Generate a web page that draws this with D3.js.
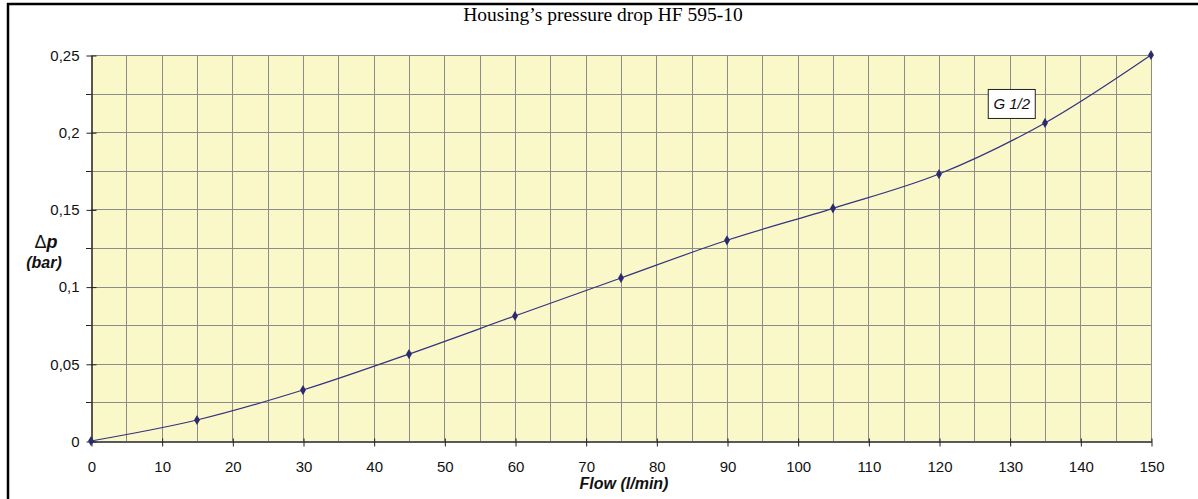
<!DOCTYPE html>
<html>
<head>
<meta charset="utf-8">
<script src="https://cdn.jsdelivr.net/npm/d3@7"></script>
<style>
  body { margin: 0; background: #fff; }
  svg { display: block; }
</style>
</head>
<body>
<div id="chart"></div>
<script>
// Data
const flow = [0, 15, 30, 45, 60, 75, 90, 105, 120, 135, 150];
const pressureDrop = [0, 0.0136, 0.033, 0.0563, 0.081, 0.1056, 0.130, 0.1507, 0.1729, 0.206, 0.25];
const xTicks = [0, 10, 20, 30, 40, 50, 60, 70, 80, 90, 100, 110, 120, 130, 140, 150];
const yTicks = [0, 0.05, 0.1, 0.15, 0.2, 0.25];
const seriesLabel = "G 1/2";

const width = 1198, height = 499;
const plotL = 91, plotR = 1151, plotT = 55, plotB = 441;
const sans = "Liberation Sans, Arial, sans-serif";

const svg = d3.select("#chart").append("svg")
    .attr("width", width)
    .attr("height", height);

// outer frame (left and top only are visible)
svg.append("line").attr("x1", 8).attr("x2", 8).attr("y1", 3).attr("y2", height)
    .attr("stroke", "#000").attr("stroke-width", 2.5);
svg.append("line").attr("x1", 7).attr("x2", width).attr("y1", 4).attr("y2", 4)
    .attr("stroke", "#000").attr("stroke-width", 2.5);

const x = d3.scaleLinear().domain([0, 150]).range([plotL, plotR]);
const y = d3.scaleLinear().domain([0, 0.25]).range([plotB, plotT]);

// plot background
svg.append("rect")
    .attr("x", plotL).attr("y", plotT)
    .attr("width", plotR - plotL).attr("height", plotB - plotT)
    .attr("fill", "#faf7c8");

// grid
const grid = svg.append("g").attr("stroke", "#8c8c8c").attr("stroke-width", 1);
grid.selectAll(".vg").data(d3.range(5, 151, 5)).join("line")
    .attr("x1", d => Math.round(x(d)) + 0.5).attr("x2", d => Math.round(x(d)) + 0.5)
    .attr("y1", plotT).attr("y2", plotB);
grid.selectAll(".hg").data(d3.range(0.025, 0.2501, 0.025)).join("line")
    .attr("x1", plotL).attr("x2", plotR)
    .attr("y1", d => Math.round(y(d)) + 0.5).attr("y2", d => Math.round(y(d)) + 0.5);

// axes
const xAxis = d3.axisBottom(x).tickValues(xTicks).tickSize(6).tickSizeOuter(0)
    .tickFormat(d3.format("d"));
const gX = svg.append("g")
    .attr("transform", `translate(0.5,${plotB + 0.5})`)
    .call(xAxis);
gX.select(".domain").attr("stroke", "#222").attr("stroke-width", 1.5);
gX.selectAll(".tick line").attr("stroke", "#222").attr("y1", -3).attr("y2", 5);
gX.selectAll(".tick text")
    .attr("y", 25).attr("dy", "0.35em")
    .attr("font-family", sans)
    .attr("font-size", 15).attr("fill", "#111");

const yFmt = d => d === 0 ? "0" : String(+d.toFixed(3)).replace(".", ",");
const yAxis = d3.axisLeft(y).tickValues(yTicks).tickSize(5).tickSizeOuter(0).tickFormat(yFmt);
const gY = svg.append("g")
    .attr("transform", `translate(${plotL + 0.5},0.5)`)
    .call(yAxis);
gY.select(".domain").attr("stroke", "#222").attr("stroke-width", 1.5);
gY.selectAll(".tick line").attr("stroke", "#222").attr("x1", 5).attr("x2", -5);
gY.selectAll(".tick text")
    .attr("x", -12)
    .attr("font-family", sans)
    .attr("font-size", 15).attr("fill", "#111");

// minor y ticks
svg.append("g").selectAll("line")
    .data(d3.range(0.025, 0.25, 0.05)).join("line")
    .attr("x1", plotL - 5).attr("x2", plotL)
    .attr("y1", d => Math.round(y(d)) + 0.5).attr("y2", d => Math.round(y(d)) + 0.5)
    .attr("stroke", "#222");

// series
const pts = flow.map((f, i) => [f, pressureDrop[i]]);
const line = d3.line()
    .x(d => x(d[0]))
    .y(d => y(d[1]))
    .curve(d3.curveCatmullRom.alpha(0.5));

svg.append("path")
    .datum(pts)
    .attr("fill", "none")
    .attr("stroke", "#333380")
    .attr("stroke-width", 1.2)
    .attr("d", line);

svg.append("g").selectAll("path")
    .data(pts).join("path")
    .attr("transform", d => `translate(${x(d[0])},${y(d[1])})`)
    .attr("d", d3.symbol(d3.symbolDiamond, 30)())
    .attr("fill", "#2a2a70");

// series label box
const lbl = svg.append("g").attr("transform", `translate(${x(126.9)},${y(0.228)})`);
lbl.append("rect")
    .attr("x", 0.5).attr("y", 0.5).attr("width", 47).attr("height", 29)
    .attr("fill", "#fff").attr("stroke", "#222").attr("stroke-width", 1);
lbl.append("text")
    .attr("x", 24).attr("y", 15).attr("dy", "0.35em")
    .attr("text-anchor", "middle")
    .attr("font-family", sans)
    .attr("font-size", 15).attr("font-style", "italic")
    .attr("fill", "#111")
    .attr("xml:space", "preserve")
    .text(seriesLabel);

// titles
svg.append("text")
    .attr("x", 603).attr("y", 21)
    .attr("text-anchor", "middle")
    .attr("font-family", "Liberation Serif, Times New Roman, serif")
    .attr("font-size", 19.5).attr("fill", "#000")
    .text("Housing\u2019s pressure drop HF 595-10");

svg.append("text")
    .attr("x", 624).attr("y", 489)
    .attr("text-anchor", "middle")
    .attr("font-family", sans)
    .attr("font-size", 16).attr("font-weight", "bold").attr("font-style", "italic")
    .attr("fill", "#111")
    .text("Flow (l/min)");

const yt = svg.append("text")
    .attr("text-anchor", "middle")
    .attr("font-family", sans)
    .attr("font-size", 16).attr("font-weight", "bold").attr("font-style", "italic")
    .attr("fill", "#111");
yt.append("tspan").attr("x", 46).attr("y", 248).text("\u0394")
    .attr("font-weight", "normal").attr("font-style", "normal").attr("font-size", 18);
yt.append("tspan").attr("font-size", 18).text("p");
yt.append("tspan").attr("x", 44).attr("y", 268).text("(bar)");
</script>
</body>
</html>
